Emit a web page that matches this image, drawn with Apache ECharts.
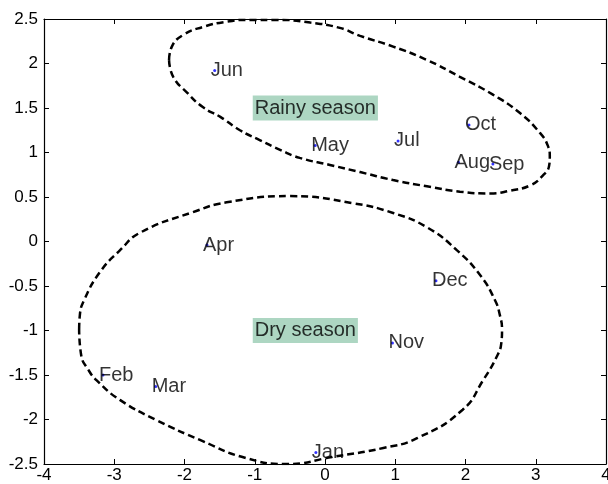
<!DOCTYPE html>
<html>
<head>
<meta charset="utf-8">
<script src="https://cdn.jsdelivr.net/npm/echarts@6/dist/echarts.min.js"></script>
<style>
html,body{margin:0;padding:0;background:#fff;}
#chart{width:608px;height:484px;}
</style>
</head>
<body>
<div id="chart"></div>
<script>
// Month points
const months = ['Jan','Feb','Mar','Apr','May','Jun','Jul','Aug','Sep','Oct','Nov','Dec'];
const monthX = [-0.13, -3.16, -2.41, -1.68, -0.14, -1.57, 1.04, 1.90, 2.39, 2.05, 0.96, 1.58];
const monthY = [-2.37, -1.50, -1.63, -0.04, 1.08, 1.92, 1.13, 0.89, 0.87, 1.31, -1.14, -0.44];

// Season annotations
const seasonNames = ['Rainy season', 'Dry season'];
const seasonX = [-1, -1];
const seasonY = [1.5, -1.0];

// Hand-drawn dashed outlines
const rainyOutlineX = [-2.22,-2.18,-2.02,-1.74,-1.40,-1.07,-0.68,-0.21,0.21,0.50,0.97,1.45,1.92,2.39,2.78,3.06,3.17,3.20,3.19,3.10,2.92,2.63,2.35,1.92,1.45,0.97,0.50,0.07,-0.36,-0.64,-0.93,-1.21,-1.49,-1.74,-1.96,-2.16,-2.22];
const rainyOutlineY = [2.04,2.19,2.32,2.41,2.47,2.49,2.49,2.46,2.40,2.31,2.19,2.04,1.85,1.65,1.44,1.22,1.08,0.95,0.85,0.74,0.63,0.57,0.54,0.56,0.62,0.69,0.78,0.86,0.94,1.03,1.14,1.25,1.40,1.51,1.67,1.85,2.04];
const dryOutlineX = [-3.50,-3.49,-3.43,-3.20,-2.92,-2.63,-1.88,-1.40,-0.50,0.40,0.97,1.45,1.88,2.21,2.42,2.49,2.52,2.51,2.46,2.25,1.96,1.31,0.83,0.11,-0.54,-1.14,-1.78,-2.39,-2.92,-3.25,-3.37,-3.47,-3.50];
const dryOutlineY = [-0.99,-0.83,-0.66,-0.34,-0.10,0.10,0.33,0.44,0.51,0.43,0.32,0.16,-0.10,-0.38,-0.66,-0.83,-0.99,-1.14,-1.27,-1.56,-1.89,-2.21,-2.32,-2.42,-2.50,-2.43,-2.23,-2.01,-1.78,-1.56,-1.44,-1.28,-0.99];

const FONT = '"Liberation Sans", Arial, sans-serif';

const pts = months.map((m, i) => [monthX[i], monthY[i], m]);
const seasonPts = seasonNames.map((s, i) => [seasonX[i], seasonY[i], s]);
const rainyLine = rainyOutlineX.map((x, i) => [x, rainyOutlineY[i]]);
const dryLine = dryOutlineX.map((x, i) => [x, dryOutlineY[i]]);

const chart = echarts.init(document.getElementById('chart'), null, {renderer: 'canvas'});

const axisCommon = {
  type: 'value',
  axisLine: {show: true, onZero: false, lineStyle: {color: '#000', width: 1.2}},
  axisTick: {show: true, inside: true, length: 5, lineStyle: {color: '#000'}},
  splitLine: {show: false}
};

chart.setOption({
  animation: false,
  backgroundColor: '#fff',
  grid: {left: 44, right: 2, top: 19, bottom: 20, show: false, containLabel: false, outerBoundsMode: 'none'},
  xAxis: [
    Object.assign({}, axisCommon, {
      position: 'bottom', min: -4, max: 4, interval: 1,
      axisLabel: {color: '#000', fontFamily: FONT, fontSize: 17, margin: 3, showMinLabel: true, showMaxLabel: true, hideOverlap: false}
    }),
    Object.assign({}, axisCommon, {
      position: 'top', min: -4, max: 4, interval: 1, axisLabel: {show: false}
    })
  ],
  yAxis: [
    Object.assign({}, axisCommon, {
      position: 'left', min: -2.5, max: 2.5, interval: 0.5,
      axisLabel: {color: '#000', fontFamily: FONT, fontSize: 17, margin: 6, showMinLabel: true, showMaxLabel: true, hideOverlap: false}
    }),
    Object.assign({}, axisCommon, {
      position: 'right', min: -2.5, max: 2.5, interval: 0.5, axisLabel: {show: false}
    })
  ],
  series: [
    {
      type: 'line', data: rainyLine, showSymbol: false, smooth: 0.5, z: 5,
      lineStyle: {color: '#000', width: 2.5, type: [7, 4]}, silent: true
    },
    {
      type: 'line', data: dryLine, showSymbol: false, smooth: 0.5, z: 5,
      lineStyle: {color: '#000', width: 2.5, type: [7, 4]}, silent: true
    },
    {
      type: 'scatter', data: pts, symbol: 'circle', symbolSize: 3, z: 3,
      itemStyle: {color: '#0000ff'},
      label: {
        show: true, position: ['50%', '50%'], offset: [-4, 0], align: 'left', verticalAlign: 'middle',
        formatter: p => p.data[2], color: '#000', fontFamily: FONT, fontSize: 20,
        textBorderWidth: 0
      }
    },
    {
      type: 'scatter', data: seasonPts, symbolSize: 0, z: 2,
      label: {
        show: true, position: ['50%', '50%'], offset: [-2, 0], align: 'left', verticalAlign: 'middle',
        formatter: p => p.data[2], color: '#000', fontFamily: FONT, fontSize: 20,
        backgroundColor: '#99ccb3', padding: [3, 2, 2, 2], textBorderWidth: 0
      }
    }
  ]
});
</script>
</body>
</html>
